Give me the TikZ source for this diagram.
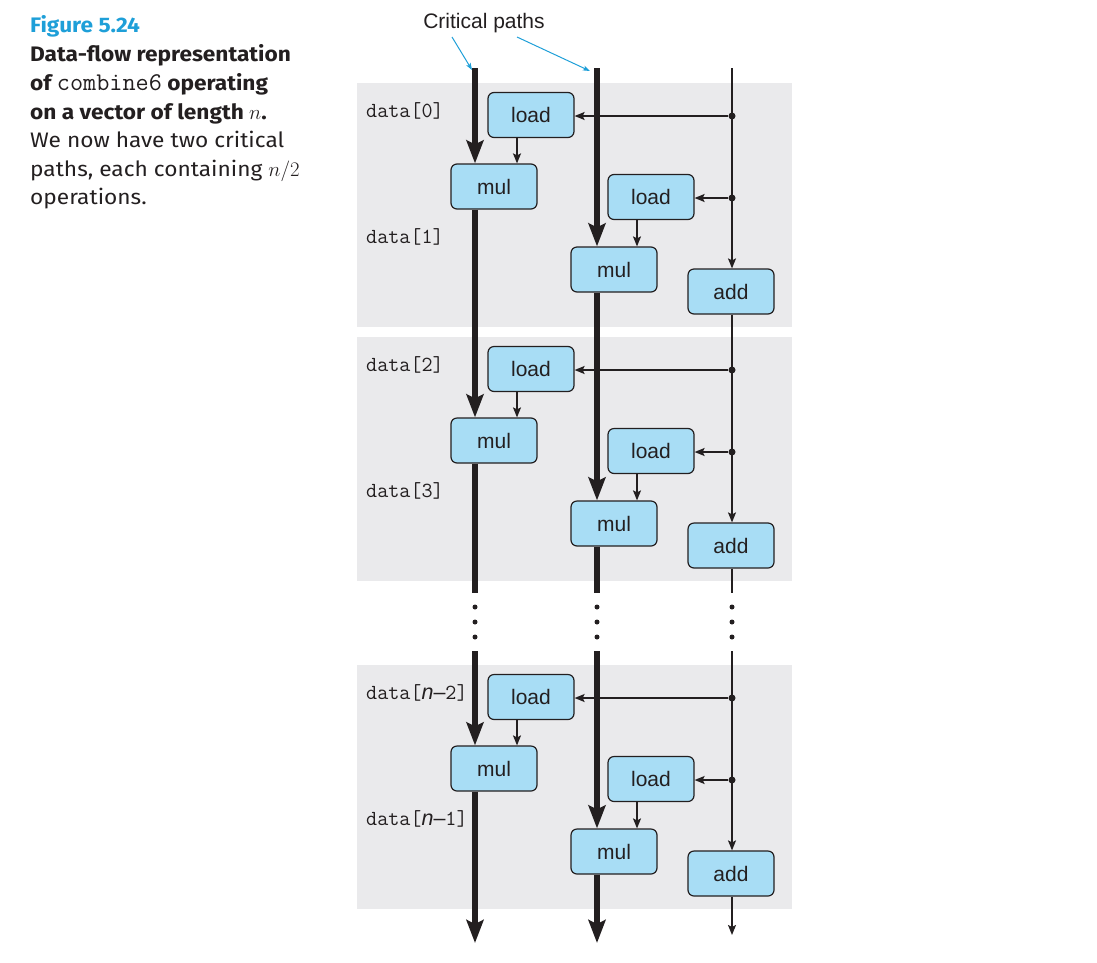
\documentclass[tikz,border=0pt]{standalone}
\usepackage{fontspec}
\setmainfont{Liberation Sans}
\newfontfamily\capfont[FakeStretch=1.08]{Fira Sans}
\usetikzlibrary{arrows.meta}
\definecolor{panelgray}{HTML}{EAEAEC}
\definecolor{boxblue}{HTML}{A8DDF5}
\definecolor{capcyan}{HTML}{1E9FD8}
\definecolor{inkdark}{HTML}{231F20}
\begin{document}
\begin{tikzpicture}[x=1pt,y=-1pt,
  panel/.style={fill=panelgray,draw=none},
  opbox/.style={draw=inkdark,line width=1.2pt,fill=boxblue,rounded corners=6pt,
    minimum width=86pt,minimum height=45pt,inner sep=0pt,
    font=\fontsize{21}{25}\selectfont,text=inkdark},
  critline/.style={draw=inkdark,line width=6pt},
  critarrow/.style={critline,-{Stealth[length=23pt,width=17pt,inset=4pt]}},
  flowline/.style={draw=inkdark,line width=1.5pt},
  flowarrow/.style={flowline,-{Stealth[length=10pt,width=8pt,inset=2pt]}},
  junction/.style={circle,fill=inkdark,inner sep=0pt,minimum size=7pt},
  contdot/.style={circle,fill=inkdark,inner sep=0pt,minimum size=5pt},
  datalabel/.style={anchor=base west,inner sep=0pt,text=inkdark,
    font=\fontsize{21.5}{24}\ttfamily},
  caption/.style={anchor=base west,inner sep=0pt,text=inkdark,
    font=\fontsize{21}{28}\capfont},
  capbold/.style={caption,font=\fontsize{21}{28}\capfont\bfseries},
  pointer/.style={draw=capcyan,line width=1pt,-{Stealth[length=7pt,width=5pt,inset=1.5pt]}}
]
\useasboundingbox (0,0) rectangle (1097,962);

% caption
\node[capbold,text=capcyan] (cap1) at (30,32) {Figure 5.24};
\node[capbold] (cap2) at (30,61) {Data-flow representation};
\node[capbold] (cap3) at (30,90) {of {\mdseries\fontsize{25.5}{28}\ttfamily combine6} operating};
\node[capbold] (cap4) at (30,119) {on a vector of length $n$.};
\node[caption] (cap5) at (30,147) {We now have two critical};
\node[caption] (cap6) at (30,176) {paths, each containing $n/2$};
\node[caption] (cap7) at (30,204) {operations.};

% panels
\foreach \o/\i in {0/1,254/2,582/3}{
  \fill[panel] (357,83+\o) rectangle (792,327+\o);
}

% critical paths annotation
\node[font=\fontsize{21}{25}\selectfont,text=inkdark,anchor=base] (crit) at (484,28) {Critical paths};
\coordinate (ta) at (475,68);
\coordinate (tb) at (597,68);
\coordinate (tc) at (732,68);
\draw[pointer] (452,37) -- ([xshift=-3pt,yshift=-2pt]ta);
\draw[pointer] (517,37) -- ([xshift=-7pt,yshift=-3pt]tb);

% blocks
\foreach \o/\i in {0/1,254/2,582/3}{
  \node[opbox] (la\i) at (531,115+\o) {load};
  \node[opbox] (ma\i) at (494,186.5+\o) {mul};
  \node[opbox] (lb\i) at (651,197+\o) {load};
  \node[opbox] (mb\i) at (614,269.5+\o) {mul};
  \node[opbox] (ad\i) at (731,291.5+\o) {add};
  \node[junction] (ja\i) at (732,116+\o) {};
  \node[junction] (jb\i) at (732,198+\o) {};
  \draw[flowarrow] (ja\i) -- (ja\i -| la\i.east);
  \draw[flowarrow] (jb\i) -- (jb\i -| lb\i.east);
  \draw[flowarrow] ([xshift=-14pt]la\i.south) -- ([xshift=-14pt]la\i.south |- ma\i.north);
  \draw[flowarrow] ([xshift=-14pt]lb\i.south) -- ([xshift=-14pt]lb\i.south |- mb\i.north);
}

% data labels
\node[datalabel] (d0) at (366,117) {data[0]};
\node[datalabel] (d1) at (366,243) {data[1]};
\node[datalabel] (d2) at (366,371) {data[2]};
\node[datalabel] (d3) at (366,497) {data[3]};
\node[datalabel] (d4) at (366,699) {data[{\fontspec{Liberation Sans}\itshape n}{\fontspec{Liberation Sans}–}2]};
\node[datalabel] (d5) at (366,825) {data[{\fontspec{Liberation Sans}\itshape n}{\fontspec{Liberation Sans}–}1]};

% gap coordinates
\coordinate (ga) at (475,593); \coordinate (ha) at (475,651);
\coordinate (gb) at (597,593); \coordinate (hb) at (597,651);
\coordinate (gc) at (732,593); \coordinate (hc) at (732,651);
\coordinate (ea) at (475,943); \coordinate (eb) at (597,943); \coordinate (ec) at (732,935);

% critical path A
\draw[critarrow] (ta) -- (ta |- ma1.north);
\draw[critarrow] (ta |- ma1.south) -- (ta |- ma2.north);
\draw[critline] (ta |- ma2.south) -- (ga);
\draw[critarrow] (ha) -- (ha |- ma3.north);
\draw[critarrow] (ta |- ma3.south) -- (ea);
% critical path B
\draw[critarrow] (tb) -- (tb |- mb1.north);
\draw[critarrow] (tb |- mb1.south) -- (tb |- mb2.north);
\draw[critline] (tb |- mb2.south) -- (gb);
\draw[critarrow] (hb) -- (hb |- mb3.north);
\draw[critarrow] (tb |- mb3.south) -- (eb);
% index line
\draw[flowarrow] (tc) -- (tc |- ad1.north);
\draw[flowarrow] (tc |- ad1.south) -- (tc |- ad2.north);
\draw[flowline] (tc |- ad2.south) -- (gc);
\draw[flowarrow] (hc) -- (hc |- ad3.north);
\draw[flowarrow] (tc |- ad3.south) -- (ec);

% continuation dots
\foreach \x/\c in {475/a,597/b,732/c}{
  \node[contdot] (dt1\c) at (\x,607) {};
  \node[contdot] (dt2\c) at (\x,622) {};
  \node[contdot] (dt3\c) at (\x,637) {};
}
\end{tikzpicture}
\end{document}
